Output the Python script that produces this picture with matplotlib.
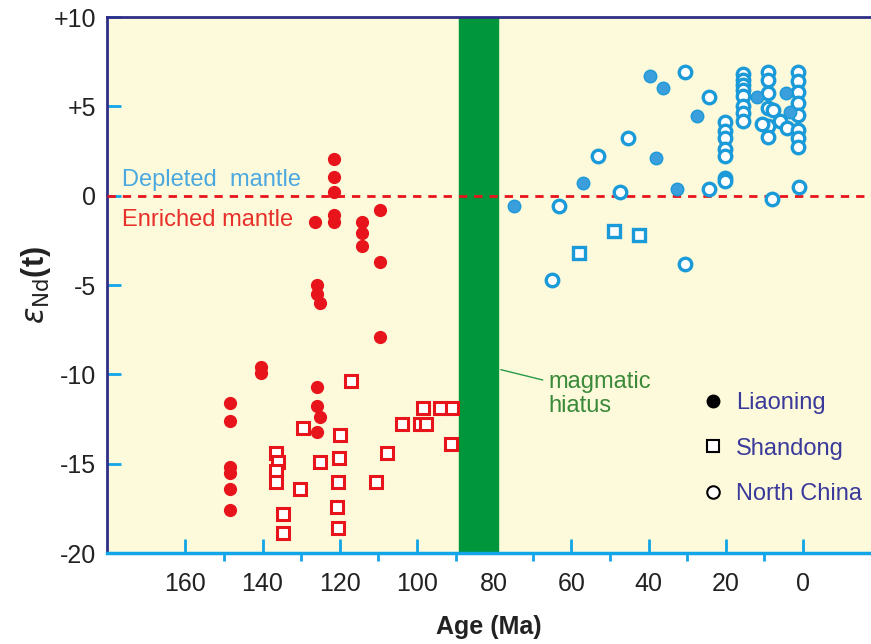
import matplotlib
matplotlib.use("Agg")
from matplotlib import pyplot as plt
from matplotlib.lines import Line2D

plt.rcParams['font.family'] = ['Liberation Sans', 'DejaVu Sans']

# Liaoning, Early Cretaceous (red filled circles)
liao_old_age = [148.4, 148.4, 148.4, 148.4, 148.4, 148.4, 140.4, 140.4,
                125.9, 125.9, 125.1, 125.9, 126.4, 126.0, 126.0, 125.1,
                121.5, 121.5, 121.5, 121.5, 121.5,
                114.2, 114.2, 114.2, 109.6, 109.6, 109.6]
liao_old_en = [-11.6, -12.6, -15.2, -15.5, -16.4, -17.6, -9.6, -9.9,
               -10.7, -11.8, -12.4, -13.2, -1.45, -5.0, -5.5, -6.0,
               2.07, 1.06, 0.2, -1.06, -1.45,
               -1.45, -2.1, -2.8, -0.8, -3.7, -7.9]

# Shandong, Early Cretaceous (red open squares)
shan_old_age = [117.1, 98.4, 94.0, 90.9, 129.5, 119.9, 103.9, 99.2, 97.7, 91.2,
                136.5, 136.0, 136.5, 136.5, 125.1, 120.2, 107.8, 120.5, 110.6,
                130.3, 120.7, 134.7, 120.5, 134.7]
shan_old_en = [-10.4, -11.9, -11.9, -11.9, -13.0, -13.4, -12.8, -12.8, -12.8, -13.9,
               -14.4, -14.9, -15.4, -16.0, -14.9, -14.7, -14.4, -16.0, -16.0,
               -16.4, -17.4, -17.8, -18.6, -18.9]

# Liaoning, Cenozoic (blue filled circles)
liao_young_age = [39.6, 36.3, 38.1, 57.0, 32.6, 74.9, 27.5, 11.9, 4.4, 3.4]
liao_young_en = [6.7, 6.0, 2.1, 0.73, 0.4, -0.56, 4.47, 5.5, 5.75, 4.7]

# Shandong, Cenozoic (blue open squares)
shan_young_age = [49.0, 42.5, 58.0]
shan_young_en = [-2.0, -2.2, -3.2]

# North China, Cenozoic (blue open circles)
nc_age = [30.6, 45.3, 53.1, 47.4, 63.2, 65.0, 30.6, 24.4, 24.4,
          20.2, 20.2, 20.2, 20.2, 20.2, 20.2, 20.2,
          15.5, 15.5, 15.5, 15.5, 15.5, 15.5, 15.5, 15.5,
          9.1, 9.1, 9.1, 9.1, 9.1, 9.1, 8.0, 10.6, 7.8, 6.0, 4.1,
          1.3, 1.3, 1.3, 1.3, 1.3, 1.3, 1.3, 1.3, 1.0]
nc_en = [6.9, 3.2, 2.2, 0.2, -0.6, -4.7, -3.8, 5.5, 0.35,
         4.1, 3.6, 3.2, 2.6, 2.2, 1.0, 0.8,
         6.8, 6.5, 6.2, 5.9, 5.6, 5.0, 4.6, 4.2,
         6.9, 6.5, 5.75, 4.9, 3.9, 3.3, -0.2, 4.0, 4.8, 4.2, 3.8,
         6.9, 6.4, 5.8, 5.2, 4.5, 3.7, 3.2, 2.7, 0.5]

hiatus = [89, 79]

red = '#e8141c'
blue = '#1a9ad8'
navy = '#2e2e88'
lightblue = '#12a5e8'

fig = plt.figure(figsize=(8.71, 6.44), dpi=100)
ax = fig.add_axes([0.1228, 0.1413, 0.8772, 0.8323])
ax.set_facecolor('#fdf9db')

ax.axvspan(hiatus[0], hiatus[1], color='#00963c', zorder=2)
ax.axhline(0, color=red, linestyle=(0, (3, 2.5)), linewidth=2, zorder=3)

ms = 8.5
ax.plot(liao_old_age, liao_old_en, 'o', color=red, markersize=ms, zorder=4)
ax.plot(shan_old_age, shan_old_en, 's', markerfacecolor='white', markeredgecolor=red,
        markeredgewidth=2.2, markersize=ms, zorder=4)
ax.plot(nc_age, nc_en, 'o', markerfacecolor='white', markeredgecolor=blue,
        markeredgewidth=2.4, markersize=9, zorder=4)
ax.plot(liao_young_age, liao_young_en, 'o', color='#3a9fdc', markeredgecolor=blue,
        markersize=9, zorder=5)
ax.plot(shan_young_age, shan_young_en, 's', markerfacecolor='white', markeredgecolor=blue,
        markeredgewidth=2.4, markersize=9, zorder=4)

ax.set_xlim(180.3, -17.6)
ax.set_ylim(-20, 10)
ax.set_xticks([160, 140, 120, 100, 80, 60, 40, 20, 0])
ax.set_xticks([150, 130, 110, 90, 70, 50, 30, 10], minor=True)
ax.set_yticks([10, 5, 0, -5, -10, -15, -20])
ax.set_yticklabels(['+10', '+5', '0', '-5', '-10', '-15', '-20'])

ax.tick_params(axis='both', direction='in', color=lightblue, width=2, labelsize=18,
               labelcolor='#222222')
ax.tick_params(axis='x', which='major', length=10, pad=14)
ax.tick_params(axis='x', which='minor', length=6, color=lightblue, width=2)
ax.tick_params(axis='y', length=10, pad=8)

ax.spines['right'].set_visible(False)
ax.spines['left'].set_color(navy)
ax.spines['left'].set_linewidth(2)
ax.spines['top'].set_color(navy)
ax.spines['top'].set_linewidth(2)
ax.spines['bottom'].set_color(lightblue)
ax.spines['bottom'].set_linewidth(2.5)

ax.set_xlabel('Age (Ma)', fontsize=18, fontweight='bold', labelpad=13, color='#222222')
ax.set_ylabel(r'$\varepsilon_{\mathrm{Nd}}$(t)', fontsize=22, fontweight='bold',
              labelpad=0, color='#222222')

ax.text(176.5, 0.9, 'Depleted  mantle', color='#4aa8e0', fontsize=17, va='center')
ax.text(176.5, -1.35, 'Enriched mantle', color='#e8302a', fontsize=17, va='center')

ax.annotate('magmatic\nhiatus', xy=(79, -9.7), xytext=(66, -11.1), color='#3a8a3a',
            fontsize=17, va='center', ha='left', linespacing=1.1,
            arrowprops=dict(arrowstyle='-', color='#2a9a4a', lw=1))

handles = [
    Line2D([], [], marker='o', linestyle='none', color='black', markersize=9),
    Line2D([], [], marker='s', linestyle='none', markerfacecolor='white',
           markeredgecolor='black', markeredgewidth=1.5, markersize=9),
    Line2D([], [], marker='o', linestyle='none', markerfacecolor='white',
           markeredgecolor='black', markeredgewidth=1.5, markersize=9),
]
leg = ax.legend(handles, ['Liaoning', 'Shandong', 'North China'], loc='upper left',
                bbox_to_anchor=(0.765, 0.318), frameon=False, fontsize=17,
                labelspacing=1.0, handletextpad=0.5, handlelength=1.0,
                borderaxespad=0)
for t in leg.get_texts():
    t.set_color('#3a3a9a')

fig.savefig('out.png', dpi=100)
